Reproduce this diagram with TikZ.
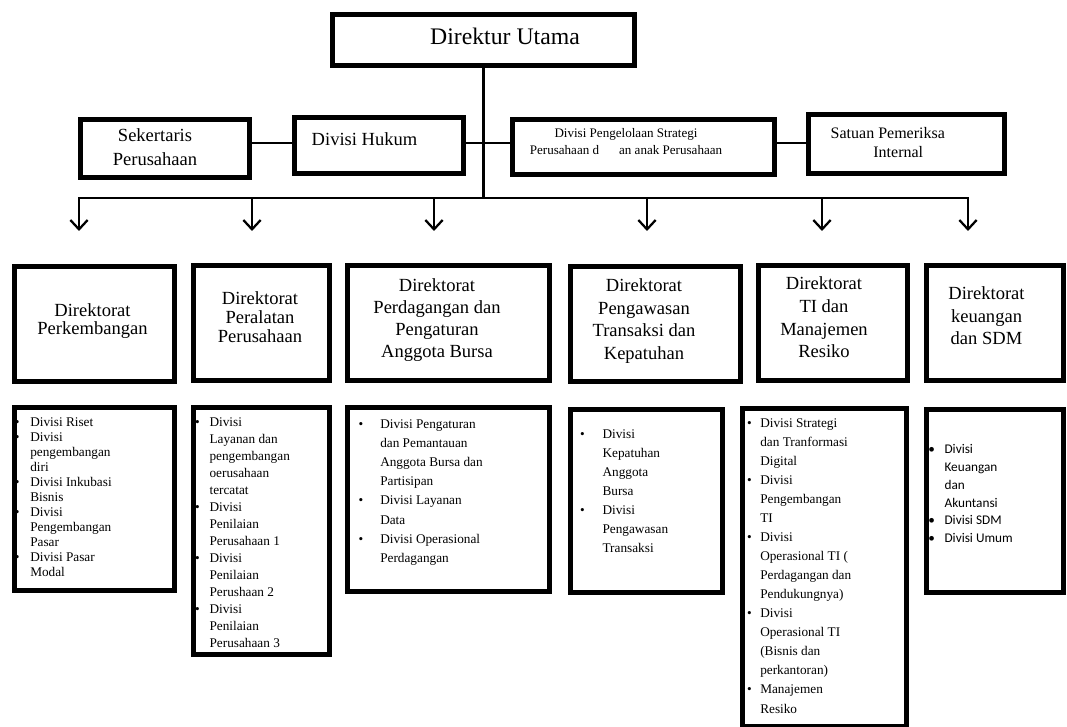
\documentclass[tikz,border=0pt]{standalone}
\usepackage{fontspec}
\setmainfont{Liberation Serif}
\newfontfamily\calibrifont{Carlito}
\usetikzlibrary{arrows.meta}

% bullet hung to the left of a list line
\newcommand\blt[1]{\llap{\textbullet\hspace{#1}}}

\tikzset{
  x=0.75pt, y=-0.75pt,
  unitbox/.style 2 args={draw, line width=3.4pt, inner sep=0pt,
    minimum width=#1*0.75pt, minimum height=#2*0.75pt},
  conn/.style={line width=1.7pt},
  down/.style={-{Straight Barb[length=7pt,width=13pt]}},
  lbl/.style={inner sep=0pt, align=center},
  listtext/.style={inner sep=0pt, align=left, anchor=north west},
}

\begin{document}
\begin{tikzpicture}
\useasboundingbox (0,0) rectangle (1067,727);

% ---- top management ----
\node[unitbox={302.5}{51.5}] (du) at (483.5,40) {};
\node[lbl, font=\fontsize{17.8}{20}\selectfont] (dut) at (505,36) {Direktur Utama};

\node[unitbox={169}{58.5}] (sek) at (165.25,148.5) {};
\node[lbl, font=\fontsize{13.9}{18.2}\selectfont] (sekt) at (155,147.2) {Sekertaris\\Perusahaan};

\node[unitbox={169.5}{56.5}] (huk) at (379,145.5) {};
\node[lbl, font=\fontsize{13.9}{16}\selectfont] (hukt) at (364.5,139.3) {Divisi Hukum};

\node[unitbox={262.5}{55.5}] (peng) at (643.5,147) {};
\node[lbl, font=\fontsize{9.8}{12.5}\selectfont] (pengt) at (626,141.7)
  {Divisi Pengelolaan Strategi\\Perusahaan d\hspace{15pt}an anak Perusahaan};

\node[unitbox={196.5}{59.5}] (sat) at (906.5,144) {};
\node[inner sep=0pt, align=left, font=\fontsize{12}{14.3}\selectfont] (satt) at (887.8,142.8)
  {Satuan Pemeriksa\\\hspace*{32pt}Internal};

% staff line
\coordinate (hy) at (0,143.3);
\draw[conn] (sek.east |- hy) -- (huk.west |- hy);
\draw[conn] (huk.east |- hy) -- (peng.west |- hy);
\draw[conn] (peng.east |- hy) -- (sat.west |- hy);

% ---- distribution bus ----
\coordinate (bus) at (0,198);
\coordinate (b1) at (79,198);   \coordinate (t1) at (79,231);
\coordinate (b2) at (252,198);  \coordinate (t2) at (252,231);
\coordinate (b3) at (434,198);  \coordinate (t3) at (434,231);
\coordinate (b4) at (647,198);  \coordinate (t4) at (647,231);
\coordinate (b5) at (822,198);  \coordinate (t5) at (822,231);
\coordinate (b6) at (968,198);  \coordinate (t6) at (968,231);

\draw[conn] (du.south) -- (du.south |- bus);
\draw[conn, {Straight Barb[length=7pt,width=13pt]}-{Straight Barb[length=7pt,width=13pt]}]
  (t1) -- (b1) -- (b6) -- (t6);
\draw[conn, down] (b2) -- (t2);
\draw[conn, down] (b3) -- (t3);
\draw[conn, down] (b4) -- (t4);
\draw[conn, down] (b5) -- (t5);

% ---- directorates ----
\node[unitbox={160.5}{115.5}] (d1) at (94.5,324) {};
\node[lbl, font=\fontsize{13.9}{13.7}\selectfont] (d1t) at (92.5,321)
  {Direktorat\\Perkembangan};

\node[unitbox={136.5}{115.5}] (d2) at (261.5,323) {};
\node[lbl, font=\fontsize{13.9}{14.1}\selectfont] (d2t) at (260,317)
  {Direktorat\\Peralatan\\Perusahaan};

\node[unitbox={202.5}{115.5}] (d3) at (448.5,323) {};
\node[lbl, font=\fontsize{13.9}{16.6}\selectfont] (d3t) at (437,320)
  {Direktorat\\Perdagangan dan\\Pengaturan\\Anggota Bursa};

\node[unitbox={170.5}{115.5}] (d4) at (655.5,324) {};
\node[lbl, font=\fontsize{13.9}{17}\selectfont] (d4t) at (644,321)
  {Direktorat\\Pengawasan\\Transaksi dan\\Kepatuhan};

\node[unitbox={149.5}{115.5}] (d5) at (833,323) {};
\node[lbl, font=\fontsize{13.9}{17}\selectfont] (d5t) at (824,317.5)
  {Direktorat\\TI dan\\Manajemen\\Resiko};

\node[unitbox={137.5}{115.5}] (d6) at (995,323) {};
\node[lbl, font=\fontsize{13.9}{16.9}\selectfont] (d6t) at (986.5,316)
  {Direktorat\\keuangan\\dan SDM};

% ---- divisions ----
\node[unitbox={160.5}{183.5}] (l1) at (94.5,499) {};
\node[listtext, font=\fontsize{9.95}{11.25}\selectfont] (l1t) at (30,417)
  {\blt{8pt}Divisi Riset\\
   \blt{8pt}Divisi\\pengembangan\\diri\\
   \blt{8pt}Divisi Inkubasi\\Bisnis\\
   \blt{8pt}Divisi\\Pengembangan\\Pasar\\
   \blt{8pt}Divisi Pasar\\Modal};

\node[unitbox={136.5}{247.5}] (l2) at (261.5,531) {};
\node[listtext, font=\fontsize{9.95}{12.75}\selectfont] (l2t) at (209.3,417)
  {\blt{7.3pt}Divisi\\Layanan dan\\pengembangan\\oerusahaan\\tercatat\\
   \blt{7.3pt}Divisi\\Penilaian\\Perusahaan 1\\
   \blt{7.3pt}Divisi\\Penilaian\\Perushaan 2\\
   \blt{7.3pt}Divisi\\Penilaian\\Perusahaan 3};

\node[unitbox={202.5}{184.5}] (l3) at (448.5,499.5) {};
\node[listtext, font=\fontsize{9.95}{14.4}\selectfont] (l3t) at (380,419)
  {\blt{12.7pt}Divisi Pengaturan\\dan Pemantauan\\Anggota Bursa dan\\Partisipan\\
   \blt{12.7pt}Divisi Layanan\\Data\\
   \blt{12.7pt}Divisi Operasional\\Perdagangan};

\node[unitbox={152.5}{183.5}] (l4) at (646.5,501) {};
\node[listtext, font=\fontsize{9.95}{14.3}\selectfont] (l4t) at (602.3,429)
  {\blt{13.3pt}Divisi\\Kepatuhan\\Anggota\\Bursa\\
   \blt{13.3pt}Divisi\\Pengawasan\\Transaksi};

\node[unitbox={164.5}{318.5}] (l5) at (824.5,567.5) {};
\node[listtext, font=\fontsize{9.95}{14.3}\selectfont] (l5t) at (760,418)
  {\blt{6.3pt}Divisi Strategi\\dan Tranformasi\\Digital\\
   \blt{6.3pt}Divisi\\Pengembangan\\TI\\
   \blt{6.3pt}Divisi\\Operasional TI (\\Perdagangan dan\\Pendukungnya)\\
   \blt{6.3pt}Divisi\\Operasional TI\\(Bisnis dan\\perkantoran)\\
   \blt{6.3pt}Manajemen\\Resiko};

\node[unitbox={137.5}{183.5}] (l6) at (995,501) {};
\node[listtext, font=\calibrifont\fontsize{9.95}{13.3}\selectfont] (l6t) at (944.3,444.5)
  {\blt{7.2pt}Divisi\\Keuangan\\dan\\Akuntansi\\
   \blt{7.2pt}Divisi SDM\\
   \blt{7.2pt}Divisi Umum};
\end{tikzpicture}
\end{document}
